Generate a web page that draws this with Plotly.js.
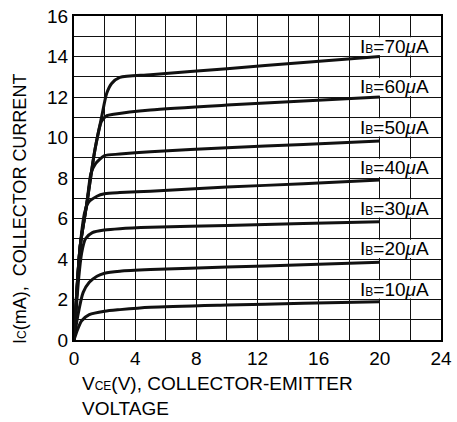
<!DOCTYPE html>
<html>
<head>
<meta charset="utf-8">
<script src="https://cdn.plot.ly/plotly-3.0.1.min.js"></script>
<style>html,body{margin:0;padding:0;background:#fff;}</style>
</head>
<body>
<div id="chart" style="width:457px;height:422px;"></div>
<script>
// Base currents (labels) and output characteristic curves
const ibLabels = ["10", "20", "30", "40", "50", "60", "70"];
const labelRowY = [2.5, 4.5, 6.5, 8.5, 10.5, 12.5, 14.5];

const vce10 = [0, 0.2, 0.5, 1.0, 2.0, 3.0, 5.0, 10, 15, 20];
const ic10  = [0, 0.45, 0.95, 1.25, 1.42, 1.5, 1.62, 1.73, 1.81, 1.89];

const vce20 = [0, 0.25, 0.6, 1.0, 1.5, 2.0, 3.0, 5.0, 10, 15, 20];
const ic20  = [0, 1.2, 2.35, 2.85, 3.15, 3.3, 3.4, 3.48, 3.6, 3.72, 3.84];

const vce30 = [0, 0.3, 0.5, 0.75, 1.2, 2.0, 3.0, 5.0, 10, 15, 20];
const ic30  = [0, 3.0, 4.3, 5.0, 5.3, 5.43, 5.5, 5.57, 5.66, 5.75, 5.84];

const vce40 = [0, 0.4, 0.7, 0.95, 1.5, 2.0, 3.0, 5.0, 10, 15, 20];
const ic40  = [0, 4.6, 6.3, 6.8, 7.1, 7.22, 7.28, 7.35, 7.55, 7.72, 7.9];

const vce50 = [0, 0.4, 0.85, 1.1, 1.4, 2.0, 3.0, 5.0, 10, 15, 20];
const ic50  = [0, 4.6, 6.8, 8.2, 8.7, 9.1, 9.18, 9.3, 9.5, 9.66, 9.83];

const vce60 = [0, 0.4, 0.85, 1.37, 1.8, 2.15, 2.6, 5.0, 10, 15, 20];
const ic60  = [0, 4.6, 6.8, 9.4, 10.8, 11.08, 11.15, 11.36, 11.6, 11.8, 12.0];

const vce70 = [0, 0.4, 0.85, 1.37, 1.81, 2.14, 2.46, 3.0, 5.0, 10, 15, 20];
const ic70  = [0, 4.6, 6.8, 9.4, 11.03, 12.18, 12.67, 12.97, 13.1, 13.4, 13.7, 14.0];

const xs = [vce10, vce20, vce30, vce40, vce50, vce60, vce70];
const ys = [ic10, ic20, ic30, ic40, ic50, ic60, ic70];

const FONT = "Liberation Sans, Arial, Helvetica, sans-serif";

const traces = xs.map((x, i) => ({
  x: x, y: ys[i], type: "scatter", mode: "lines",
  line: {color: "#111", width: 3, shape: "spline", smoothing: 0.7},
  hoverinfo: "skip", showlegend: false
}));

// white label backgrounds drawn between gridlines and traces
const shapes = labelRowY.map(r => ({
  type: "rect", xref: "x", yref: "y", layer: "between",
  x0: 18.2, x1: 23.7, y0: r - 0.45, y1: r + 0.45,
  fillcolor: "#fff", line: {width: 0}
}));

const annotations = ibLabels.map((lab, i) => ({
  x: 20.95, y: labelRowY[i], xref: "x", yref: "y",
  text: "I<span style='font-size:12px'>B</span>=" + lab + "<i>μ</i>A",
  showarrow: false, borderpad: 0,
  font: {family: FONT, size: 19, color: "#000"},
  xanchor: "center", yanchor: "middle"
}));

annotations.push({
  xref: "paper", yref: "paper", x: 6/367, y: -31/324,
  xanchor: "left", yanchor: "top", align: "left", showarrow: false,
  text: "V<span style='font-size:12px'>CE</span>(V), COLLECTOR-EMITTER<br>VOLTAGE",
  font: {family: FONT, size: 19, color: "#000"}
});
annotations.push({
  xref: "paper", yref: "paper", x: -54/367, y: 131/324,
  xanchor: "center", yanchor: "middle", textangle: -90, showarrow: false,
  text: "I<span style='font-size:12px'>C</span>(mA),\u00a0 COLLECTOR CURRENT",
  font: {family: FONT, size: 18, color: "#000"}
});

const layout = {
  width: 457, height: 422,
  margin: {l: 74, r: 16, t: 16, b: 82},
  paper_bgcolor: "#fff", plot_bgcolor: "#fff",
  font: {family: FONT, size: 19, color: "#000"},
  xaxis: {
    range: [0, 24], tick0: 0, dtick: 4, showgrid: true, gridcolor: "#111", gridwidth: 1,
    minor: {dtick: 2, showgrid: true, gridcolor: "#111", gridwidth: 1},
    showline: true, mirror: true, linecolor: "#000", linewidth: 2,
    zeroline: false, ticks: "", tickfont: {family: FONT, size: 19, color: "#000"}, fixedrange: true
  },
  yaxis: {
    range: [0, 16], tick0: 0, dtick: 2, showgrid: true, gridcolor: "#111", gridwidth: 1,
    minor: {dtick: 1, showgrid: true, gridcolor: "#111", gridwidth: 1},
    showline: true, mirror: true, linecolor: "#000", linewidth: 2,
    zeroline: false, ticks: "", tickfont: {family: FONT, size: 19, color: "#000"}, fixedrange: true
  },
  shapes: shapes,
  annotations: annotations
};

Plotly.newPlot("chart", traces, layout, {staticPlot: true, displayModeBar: false});
</script>
</body>
</html>
